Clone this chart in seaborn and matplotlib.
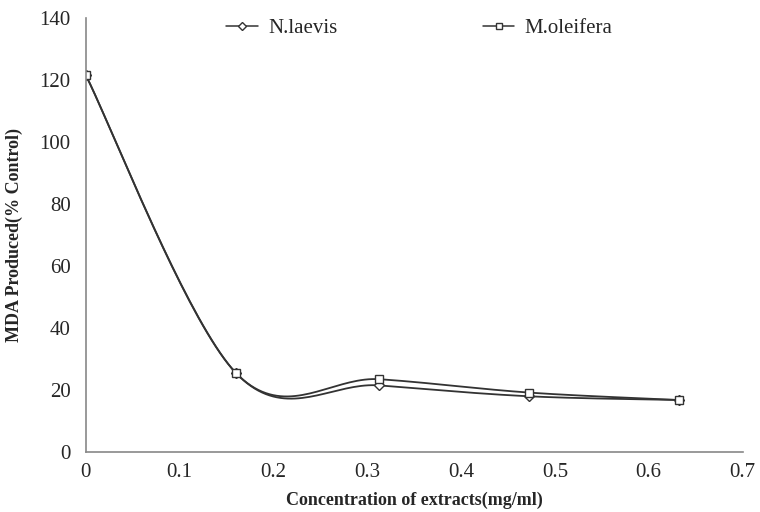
import numpy as np
import pandas as pd
import matplotlib
matplotlib.use("Agg")
import matplotlib.pyplot as plt
import seaborn as sns

# concentration of extracts (mg/ml)
conc = [0.0, 0.16, 0.313, 0.472, 0.632]
# MDA produced (% control)
n_laevis = [121.5, 25.5, 21.5, 18.0, 16.8]
m_oleifera = [121.5, 25.5, 23.5, 19.2, 16.8]
x_ticks = [0, 0.1, 0.2, 0.3, 0.4, 0.5, 0.6, 0.7]
y_ticks = [0, 20, 40, 60, 80, 100, 120, 140]


def smooth(xs, ys, n=40):
    # excel style smoothed line (bezier through catmull-rom control points)
    p = np.column_stack([xs, ys]).astype(float)
    out = []
    for i in range(len(p) - 1):
        p0 = p[i - 1] if i > 0 else p[i]
        p1, p2 = p[i], p[i + 1]
        p3 = p[i + 2] if i + 2 < len(p) else p[i + 1]
        c1 = p1 + (p2 - p0) / 6
        c2 = p2 - (p3 - p1) / 6
        t = np.linspace(0, 1, n)[:, None]
        seg = (1 - t) ** 3 * p1 + 3 * (1 - t) ** 2 * t * c1 + 3 * (1 - t) * t ** 2 * c2 + t ** 3 * p2
        out.append(seg if i == 0 else seg[1:])
    seg = np.vstack(out)
    return seg[:, 0], seg[:, 1]


sns.set_style("white")
plt.rcParams['font.family'] = ['Liberation Serif', 'DejaVu Serif']

fig = plt.figure(figsize=(7.6, 5.12), dpi=100)
ax = fig.add_axes([0.113, 0.117, 0.864, 0.848])

series = [("N.laevis", n_laevis, "D", 5), ("M.oleifera", m_oleifera, "s", 6)]
for name, vals, mk, ms in series:
    sx, sy = smooth(conc, vals)
    sns.lineplot(x=sx, y=sy, ax=ax, color="#333333", lw=1.3, sort=False,
                 estimator=None, legend=False)
    df = pd.DataFrame({"x": conc, "y": vals})
    ax.plot(df.x, df.y, ls="none", marker=mk, ms=ms, mfc="white", mec="#333333", mew=1.0)
    ax.plot([], [], color="#333333", lw=1.1, marker=mk, ms=ms - 1, mfc="white",
            mec="#333333", mew=1.0, label=name)

ax.set_xlim(0, 0.7)
ax.set_ylim(0, 140)
ax.set_xticks(x_ticks)
ax.set_xticklabels([f"{t:g}" for t in x_ticks])
ax.set_yticks(y_ticks)
for s in ["top", "right"]:
    ax.spines[s].set_visible(False)
for s in ["left", "bottom"]:
    ax.spines[s].set_color("#888888")
    ax.spines[s].set_linewidth(1.2)
ax.tick_params(axis="both", direction="out", length=5, width=1, color="#888888",
               labelsize=15, pad=6)
ax.tick_params(axis="x", pad=3)
ax.set_xlabel("Concentration of extracts(mg/ml)", fontsize=13, fontweight="bold", labelpad=7)
ax.set_ylabel("MDA Produced(% Control)", fontsize=13, fontweight="bold", labelpad=12)

fig.legend(loc="center", bbox_to_anchor=(0.552, 0.945), ncol=2, frameon=False,
           fontsize=15, handlelength=1.5, columnspacing=7, handletextpad=0.5)

fig.savefig("out.png", dpi=100)
